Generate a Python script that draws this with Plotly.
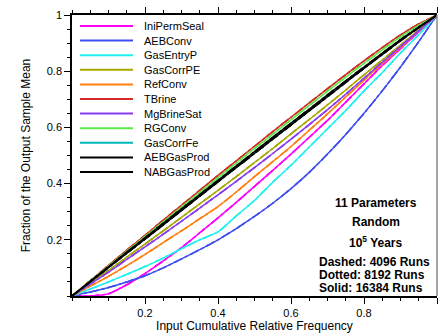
import plotly.graph_objects as go

# Input cumulative relative frequency (x)
cum_freq = [0.0, 0.05, 0.1, 0.15, 0.2, 0.25, 0.3, 0.35, 0.4, 0.45, 0.5,
            0.55, 0.6, 0.65, 0.7, 0.75, 0.8, 0.85, 0.9, 0.95, 1.0]

# Fraction of output sample mean (y) per parameter
ini_perm_seal = [0.0, 0.0, 0.008, 0.04, 0.08, 0.125, 0.172, 0.225, 0.278, 0.333, 0.39,
                 0.447, 0.505, 0.565, 0.625, 0.69, 0.755, 0.82, 0.88, 0.94, 1.0]
aeb_conv      = [0.0, 0.014, 0.03, 0.05, 0.072, 0.1, 0.132, 0.165, 0.2, 0.24, 0.283,
                 0.33, 0.382, 0.44, 0.505, 0.575, 0.65, 0.73, 0.815, 0.905, 1.0]
gas_entry_p   = [0.0, 0.025, 0.05, 0.077, 0.105, 0.135, 0.168, 0.2, 0.228, 0.285, 0.34,
                 0.405, 0.465, 0.53, 0.595, 0.66, 0.73, 0.795, 0.865, 0.93, 1.0]
gas_corr_pe   = [0.0, 0.045, 0.091, 0.138, 0.185, 0.232, 0.28, 0.328, 0.376, 0.425, 0.475,
                 0.525, 0.577, 0.628, 0.68, 0.733, 0.787, 0.84, 0.893, 0.947, 1.0]
ref_conv      = [0.0, 0.035, 0.07, 0.108, 0.148, 0.19, 0.232, 0.275, 0.318, 0.37, 0.425,
                 0.478, 0.532, 0.59, 0.648, 0.708, 0.768, 0.828, 0.885, 0.943, 1.0]
t_brine       = [0.0, 0.055, 0.109, 0.163, 0.216, 0.27, 0.323, 0.376, 0.429, 0.481, 0.533,
                 0.585, 0.636, 0.687, 0.738, 0.788, 0.837, 0.884, 0.929, 0.968, 1.0]
mg_brine_sat  = [0.0, 0.042, 0.085, 0.13, 0.175, 0.22, 0.266, 0.313, 0.36, 0.408, 0.457,
                 0.507, 0.558, 0.61, 0.663, 0.718, 0.775, 0.832, 0.888, 0.944, 1.0]
rg_conv       = [0.0, 0.053, 0.106, 0.159, 0.211, 0.264, 0.316, 0.369, 0.421, 0.473, 0.525,
                 0.576, 0.627, 0.678, 0.729, 0.779, 0.828, 0.876, 0.922, 0.963, 1.0]
gas_corr_fe   = [0.0, 0.051, 0.102, 0.153, 0.204, 0.255, 0.306, 0.357, 0.408, 0.459, 0.51,
                 0.56, 0.611, 0.661, 0.712, 0.762, 0.812, 0.861, 0.91, 0.956, 1.0]
aeb_gas_prod  = [0.0, 0.052, 0.104, 0.156, 0.207, 0.259, 0.31, 0.361, 0.412, 0.463, 0.514,
                 0.565, 0.615, 0.665, 0.716, 0.766, 0.815, 0.864, 0.912, 0.957, 1.0]
nab_gas_prod  = [0.0, 0.05, 0.101, 0.152, 0.202, 0.253, 0.304, 0.355, 0.406, 0.457, 0.507,
                 0.558, 0.608, 0.659, 0.709, 0.76, 0.81, 0.859, 0.908, 0.955, 1.0]

param_names = ["IniPermSeal", "AEBConv", "GasEntryP", "GasCorrPE", "RefConv", "TBrine",
               "MgBrineSat", "RGConv", "GasCorrFe", "AEBGasProd", "NABGasProd"]
param_values = [ini_perm_seal, aeb_conv, gas_entry_p, gas_corr_pe, ref_conv, t_brine,
                mg_brine_sat, rg_conv, gas_corr_fe, aeb_gas_prod, nab_gas_prod]
param_colors = ["#FF00FF", "#3F4FEF", "#22F0F0", "#A8A800", "#FF8010", "#D42A2A",
                "#8A3CF0", "#5CE84A", "#00B8B8", "#000000", "#000000"]

x_ticks = [0.2, 0.4, 0.6, 0.8, 1.0]
y_ticks = [0.2, 0.4, 0.6, 0.8, 1.0]
tick_labels = ["0.2", "0.4", "0.6", "0.8", "1"]

note_lines = ["11 Parameters", "Random", "10<sup>5</sup> Years"]
run_lines = ["Dashed: 4096 Runs", "Dotted: 8192 Runs", "Solid: 16384 Runs"]

FONT = "Liberation Sans, Arial, sans-serif"

fig = go.Figure()
for name, vals, col in zip(param_names, param_values, param_colors):
    for dash in ["solid", "dot", "dash"]:
        fig.add_trace(go.Scatter(
            x=cum_freq, y=vals, mode="lines", name=name, showlegend=False,
            line=dict(color=col, width=1.5, dash=dash, shape="spline", smoothing=0.5),
            hoverinfo="skip"))

W, H = 440, 336
L, R, T, B = 72, 3, 15, 40
pw, ph = W - L - R, H - T - B

def px2paper(px, py):
    return (px - L) / pw, (H - B - py) / ph

shapes = []
annotations = []
# compact legend (line sample + label)
for i, (name, col) in enumerate(zip(param_names, param_colors)):
    py = 26 + i * 14.6
    x0, y0 = px2paper(80, py)
    x1, _ = px2paper(133, py)
    shapes.append(dict(type="line", xref="paper", yref="paper", x0=x0, x1=x1, y0=y0, y1=y0,
                       line=dict(color=col, width=2)))
    tx, _ = px2paper(142, py)
    annotations.append(dict(xref="paper", yref="paper", x=tx, y=y0, text=name, showarrow=False,
                            xanchor="left", yanchor="middle",
                            font=dict(family=FONT, size=11, color="black")))

# right border (gray)
shapes.append(dict(type="line", xref="paper", yref="paper", x0=1, x1=1, y0=0, y1=1,
                   line=dict(color="#888888", width=1.5)))

for txt, py in zip(note_lines, [203, 221.5, 241.5]):
    xx, yy = px2paper(376, py)
    annotations.append(dict(xref="paper", yref="paper", x=xx, y=yy, text="<b>" + txt + "</b>",
                            showarrow=False, xanchor="center", yanchor="middle",
                            font=dict(family=FONT, size=12, color="black")))
for txt, py in zip(run_lines, [261.5, 274.5, 287.5]):
    xx, yy = px2paper(317, py)
    annotations.append(dict(xref="paper", yref="paper", x=xx, y=yy, text="<b>" + txt + "</b>",
                            showarrow=False, xanchor="left", yanchor="middle",
                            font=dict(family=FONT, size=12, color="black")))

fig.update_layout(
    width=W, height=H,
    margin=dict(l=L, r=R, t=T, b=B, pad=0),
    paper_bgcolor="white", plot_bgcolor="white",
    showlegend=False,
    font=dict(family=FONT, size=11, color="black"),
    shapes=shapes, annotations=annotations,
    xaxis=dict(range=[0, 1], tickvals=x_ticks, ticktext=tick_labels,
               ticks="outside", ticklen=6, tickwidth=1, tickcolor="black",
               showline=True, linecolor="black", linewidth=1.5, mirror="ticks",
               showgrid=False, zeroline=False,
               minor=dict(tickmode="linear", tick0=0, dtick=0.05, ticks="outside", ticklen=3,
                          tickcolor="black", showgrid=False),
               title=dict(text="Input Cumulative Relative Frequency", standoff=2,
                          font=dict(family=FONT, size=12)),
               tickfont=dict(family=FONT, size=11)),
    yaxis=dict(range=[0, 1], tickvals=y_ticks, ticktext=tick_labels,
               ticks="outside", ticklen=6, tickwidth=1, tickcolor="black",
               showline=True, linecolor="black", linewidth=1.5, mirror=False,
               showgrid=False, zeroline=False,
               minor=dict(tickmode="linear", tick0=0, dtick=0.05, ticks="outside", ticklen=3,
                          tickcolor="black", showgrid=False),
               title=dict(text="Fraction of the Output Sample Mean", standoff=14,
                          font=dict(family=FONT, size=12)),
               tickfont=dict(family=FONT, size=11)),
)

fig.write_html("out.html")
